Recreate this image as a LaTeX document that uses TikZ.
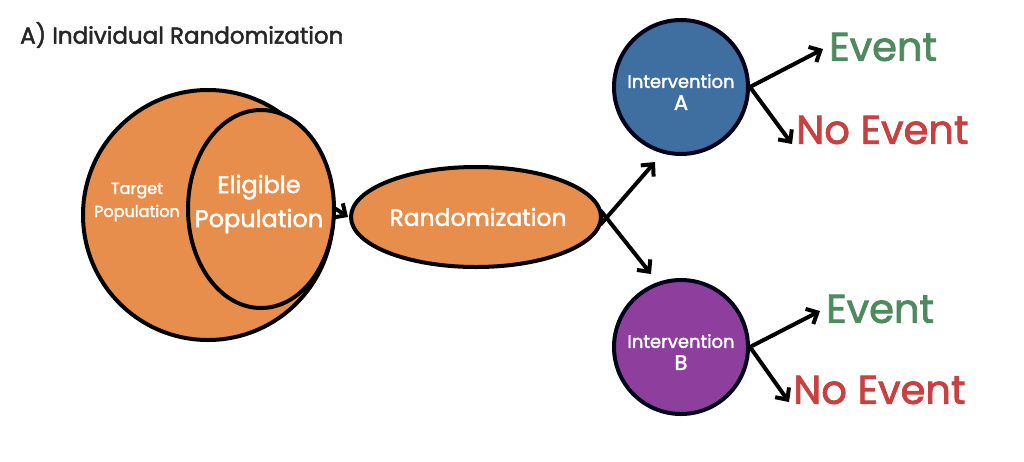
\documentclass[tikz,border=0pt]{standalone}
\usepackage{fontspec}
\setmainfont{Poppins}[FakeBold=2]
\usetikzlibrary{shapes.geometric,arrows.meta}
\definecolor{orng}{RGB}{232,142,76}
\definecolor{blu}{RGB}{62,111,160}
\definecolor{purp}{RGB}{142,63,158}
\definecolor{grn}{RGB}{78,138,94}
\definecolor{rd}{RGB}{200,64,63}
\tikzset{
  blob/.style={draw=black, line width=4pt, fill=orng, inner sep=0pt},
  circ/.style={circle, draw=black!90!blue, line width=4pt, minimum size=134pt, inner sep=0pt, text=white, align=center},
  arr/.style={-{Straight Barb[length=9pt,width=17pt,line width=4pt]}, line width=4pt, line cap=round},
  evt/.style={text=grn, font=\fontsize{40}{42}\selectfont, inner sep=0pt, anchor=west},
  noevt/.style={text=rd, font=\fontsize{40}{42}\selectfont, inner sep=0pt, anchor=west},
  lbl/.style={text=white, align=center, inner sep=0pt}
}
\begin{document}
\begin{tikzpicture}[x=1pt,y=-1pt]
\useasboundingbox[fill=white] (0,0) rectangle (1024,461);
\node[anchor=west, inner sep=0pt, font=\fontsize{23}{26}\selectfont, text=black!85] (title) at (20,35) {A) Individual Randomization};
% target population
\node[blob, circle, minimum size=250pt] (tgt) at (208,215) {};
\node[blob, ellipse, minimum width=146pt, minimum height=198pt] (elig) at (261,209) {};
\node[lbl, font=\fontsize{16}{23}\selectfont] (tgtl) at (137,202) {Target\\Population};
\node[lbl, font=\fontsize{24}{34}\selectfont] (eligl) at (259,204) {Eligible\\Population};
% randomization
\node[blob, ellipse, minimum width=250pt, minimum height=100pt] (rand) at (476,217) {};
\node[lbl, font=\fontsize{23.5}{26}\selectfont] (randl) at (478,217) {Randomization};
% interventions
\node[circ, fill=blu] (ia) at (681,87) {};
\node[lbl, font=\fontsize{18}{22}\selectfont] (ial) at (681,92) {Intervention\\{\fontsize{21}{22}\selectfont A}};
\node[circ, fill=purp] (ib) at (681,347) {};
\node[lbl, font=\fontsize{18}{22}\selectfont] (ibl) at (681,352) {Intervention\\{\fontsize{21}{22}\selectfont B}};
% outcomes
\node[evt] (ea) at (829,47) {Event};
\node[noevt] (na) at (796,130) {No Event};
\node[evt] (eb) at (826,309) {Event};
\node[noevt] (nb) at (793,390) {No Event};
% coordinates
\coordinate (erx) at (elig.east);
\coordinate (rlx) at (rand.west);
% arrows
\draw[arr] (erx) -- ([xshift=-1pt]rlx);
\draw[arr] ([shift={(-2pt,-7pt)}]rand.east) -- ([shift={(-26pt,-6pt)}]ia.south);
\draw[arr] ([shift={(-2pt,6pt)}]rand.east) -- ([shift={(-30pt,4pt)}]ib.north);
\draw[arr] (ia.east) -- ([xshift=-6pt,yshift=-2pt]ea.west);
\draw[arr] (ia.east) -- ([xshift=-4pt,yshift=-14pt]na.west);
\draw[arr] (ib.east) -- ([xshift=-6pt,yshift=-2pt]eb.west);
\draw[arr] (ib.east) -- ([xshift=-4pt,yshift=-12pt]nb.west);
\end{tikzpicture}
\end{document}
